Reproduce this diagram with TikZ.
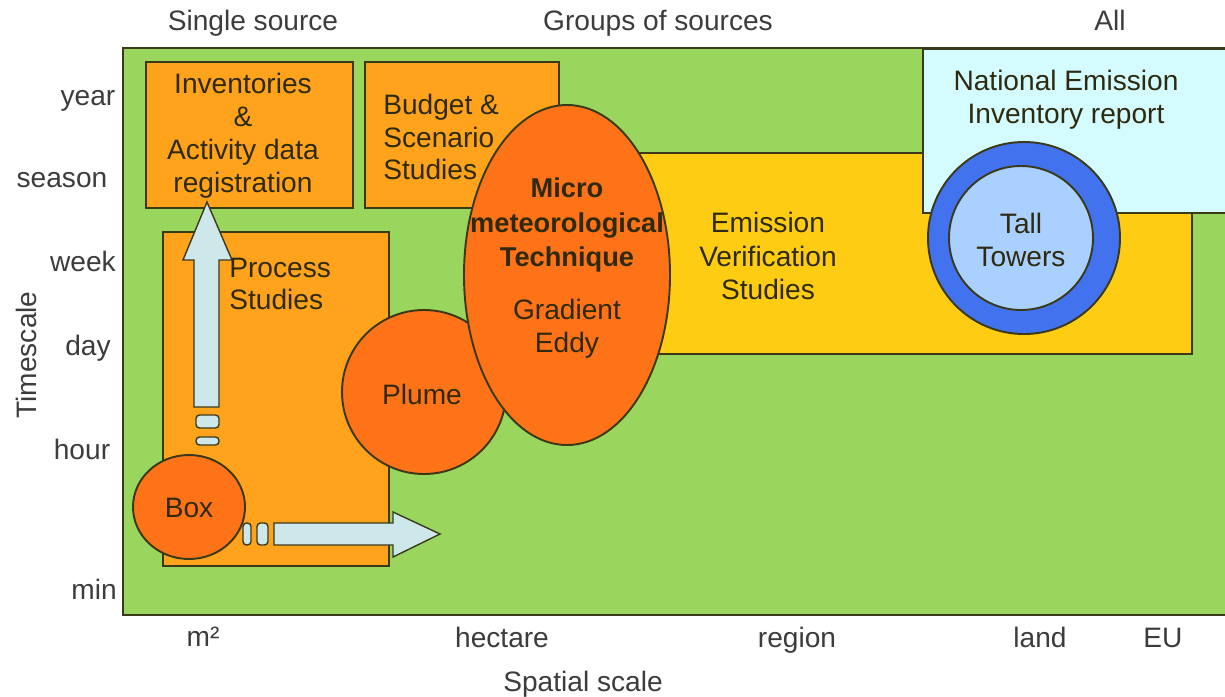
\documentclass[tikz,border=0pt]{standalone}
\usepackage{fontspec}
\setmainfont{Liberation Sans}
\usetikzlibrary{positioning}
\definecolor{fieldgreen}{HTML}{9AD65E}
\definecolor{boxorange}{HTML}{FFA31C}
\definecolor{deeporange}{HTML}{FF7318}
\definecolor{verifyyellow}{HTML}{FFCC14}
\definecolor{reportcyan}{HTML}{D4FCFF}
\definecolor{ringblue}{HTML}{4372EE}
\definecolor{towerblue}{HTML}{A9D0FF}
\definecolor{arrowblue}{HTML}{CDE7EA}
\definecolor{edge}{HTML}{3A3A1A}
\definecolor{ink}{HTML}{2E2A10}
\definecolor{axisgray}{HTML}{3C3C3C}

\begin{document}
\begin{tikzpicture}[x=0.02cm, y=-0.02cm,
    zone/.style={draw=edge, line width=1.1pt},
    txt/.style={font=\fontsize{16}{18.7}\selectfont, text=ink, align=center, inner sep=0pt},
    axis/.style={font=\fontsize{16}{19}\selectfont, text=axisgray, inner sep=0pt,
        text height=11.5pt, text depth=3.2pt},
    shaft/.style={draw=edge, fill=arrowblue, line width=0.8pt}]
    \useasboundingbox (0,0) rectangle (1225,697);

    % background field
    \fill[fieldgreen] (123,48) rectangle (1225,615);
    \draw[zone] (1225,48) -- (123,48) -- (123,615) -- (1225,615);

    % rectangular zones
    \draw[zone, fill=boxorange] (146,62) rectangle (353,208);
    \draw[zone, fill=boxorange] (365,62) rectangle (559,208);
    \draw[zone, fill=verifyyellow] (560,153) rectangle (1192,354);
    \fill[reportcyan] (923,49) rectangle (1225,213);
    \draw[zone] (1225,49) -- (923,49) -- (923,213) -- (1225,213);

    % tall towers
    \draw[zone, fill=ringblue] (1024,238) circle [radius=96];
    \draw[zone, fill=towerblue] (1021,238) circle [radius=72];

    % process studies
    \draw[zone, fill=boxorange] (163,232) rectangle (389,566);
    \draw[zone, fill=deeporange] (189,507) ellipse [x radius=56, y radius=52];

    % arrows
    \draw[shaft] (194,407) -- (194,260) -- (183,260) -- (207,202)
        -- (232,260) -- (219,260) -- (219,407) -- cycle;
    \draw[shaft, rounded corners=2pt] (196,415) rectangle (219,428);
    \draw[shaft, rounded corners=2pt] (196,437) rectangle (219,445);
    \draw[shaft] (274,523) -- (393,523) -- (393,512) -- (440,534)
        -- (393,557) -- (393,545) -- (274,545) -- cycle;
    \draw[shaft, rounded corners=2pt] (243,523) rectangle (251,545);
    \draw[shaft, rounded corners=2pt] (257,523) rectangle (268,545);

    % plume and micro meteorology
    \draw[zone, fill=deeporange] (424,392) circle [radius=82];
    \draw[zone, fill=deeporange] (567,275) ellipse [x radius=103, y radius=170];

    % zone texts
    \node[txt] (inventories) at (243,136) {Inventories\\\&\\Activity data\\registration};
    \node[txt, align=left, anchor=west] (budget) at (383,137) {Budget \&\\Scenario\\Studies};
    \node[txt, align=left, anchor=west] (process) at (229,284) {Process\\Studies};
    \node[txt, font=\fontsize{15.5}{19.8}\selectfont\bfseries] (micro) at (567,225) {Micro\\meteorological\\Technique};
    \node[txt] (gradient) at (567,329) {Gradient\\Eddy};
    \node[txt] (plume) at (422,394) {Plume};
    \node[txt] (box) at (189,508) {Box};
    \node[txt, font=\fontsize{16}{19.2}\selectfont] (verification) at (768,256) {Emission\\Verification\\Studies};
    \node[txt] (report) at (1066,100) {National Emission\\Inventory report};
    \node[txt] (towers) at (1021,240) {Tall\\Towers};

    % source groups
    \node[axis] (single) at (253,23) {Single source};
    \node[axis] (groups) at (658,23) {Groups of sources};
    \node[axis] (all) at (1110,23) {All};

    % time axis
    \node[axis] (year) at (88,98) {year};
    \node[axis] (season) at (62,180) {season};
    \node[axis] (week) at (83,264) {week};
    \node[axis] (day) at (88,348) {day};
    \node[axis] (hour) at (82,452) {hour};
    \node[axis] (min) at (94,592) {min};
    \node[axis, rotate=90] (timescale) at (29,355) {Timescale};

    % spatial axis
    \node[axis] (sqm) at (203,639) {m²};
    \node[axis] (hectare) at (502,640) {hectare};
    \node[axis] (region) at (797,640) {region};
    \node[axis] (land) at (1040,640) {land};
    \node[axis] (eu) at (1163,640) {EU};
    \node[axis] (spatial) at (583,684) {Spatial scale};
\end{tikzpicture}
\end{document}
